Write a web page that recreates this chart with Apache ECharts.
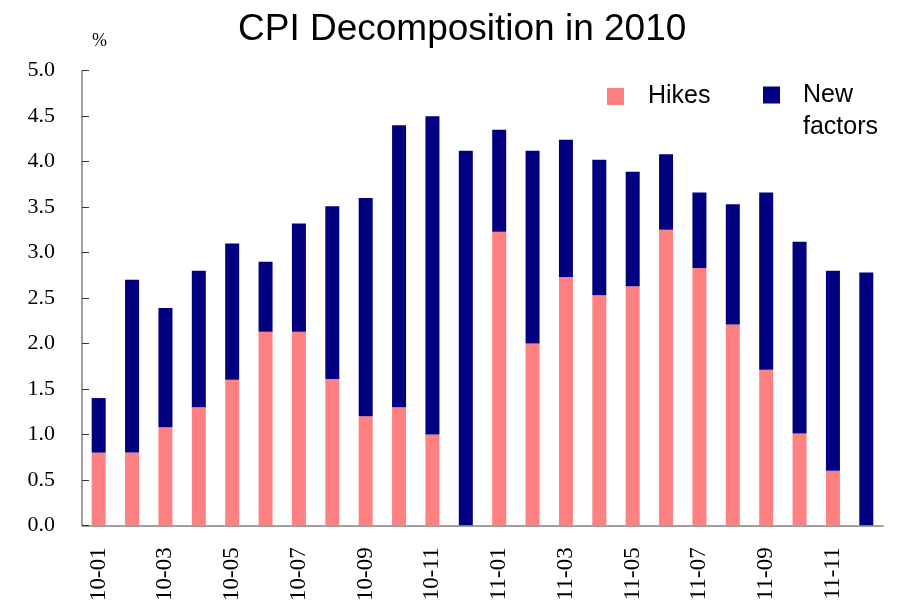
<!DOCTYPE html>
<html>
<head>
<meta charset="utf-8">
<title>CPI Decomposition in 2010</title>
<script src="https://cdn.jsdelivr.net/npm/echarts@6/dist/echarts.min.js"></script>
<style>
  html, body { margin: 0; padding: 0; background: #fff; overflow: hidden; }
  #chart { width: 897px; height: 604px; }
</style>
</head>
<body>
<div id="chart"></div>
<script>
// 月份
const months = [
  '10-01', '10-02', '10-03', '10-04', '10-05', '10-06',
  '10-07', '10-08', '10-09', '10-10', '10-11', '10-12',
  '11-01', '11-02', '11-03', '11-04', '11-05', '11-06',
  '11-07', '11-08', '11-09', '11-10', '11-11', '11-12'
]
// 翘尾因素 (Hikes)
const hikes = [
  0.8, 0.8, 1.08, 1.3, 1.6, 2.13, 2.13, 1.61, 1.2, 1.3, 1.0, 0,
  3.23, 2.0, 2.73, 2.53, 2.63, 3.25, 2.83, 2.21, 1.71, 1.01, 0.6, 0
]
// 新涨价因素 (New factors)
const newFactors = [
  0.6, 1.9, 1.31, 1.5, 1.5, 0.77, 1.19, 1.9, 2.4, 3.1, 3.5, 4.12,
  1.12, 2.12, 1.51, 1.49, 1.26, 0.83, 0.83, 1.32, 1.95, 2.11, 2.2, 2.78
]
// y轴刻度
const yTicks = [0, 0.5, 1, 1.5, 2, 2.5, 3, 3.5, 4, 4.5, 5]

const serif = '"Liberation Serif", "DejaVu Serif", serif'
const sans = '"Liberation Sans", Arial, sans-serif'

const chart = echarts.init(document.getElementById('chart'), null, { renderer: 'canvas' })

const option = {
  animation: false,
  title: {
    text: 'CPI Decomposition in 2010',
    left: 233,
    top: 6,
    textStyle: {
      fontFamily: sans,
      fontSize: 37,
      fontWeight: 'normal',
      color: '#000'
    }
  },
  legend: [
    {
      data: ['Hikes'],
      left: 602,
      top: 79,
      icon: 'rect',
      itemWidth: 17,
      itemHeight: 17,
      textStyle: {
        fontFamily: sans,
        fontSize: 25,
        color: '#000',
        padding: [0, 0, 0, 19]
      }
    },
    {
      // 第一行留空, 让 "New" 与图例方块对齐
      data: ['New factors'],
      left: 758,
      top: 42,
      icon: 'rect',
      itemWidth: 17,
      itemHeight: 17,
      formatter: () => ' \nNew\nfactors',
      textStyle: {
        fontFamily: sans,
        fontSize: 25,
        lineHeight: 32,
        color: '#000',
        padding: [0, 0, 0, 18]
      }
    }
  ],
  grid: {
    left: 82,
    right: 14,
    top: 70.7,
    bottom: 75.7
  },
  xAxis: {
    type: 'category',
    data: months,
    axisLine: { lineStyle: { color: '#808080', width: 1.5 } },
    axisTick: {
      inside: true,
      length: 7,
      interval: 1,
      lineStyle: { color: '#333' }
    },
    axisLabel: {
      interval: 1,
      rotate: 90,
      margin: 22,
      fontFamily: serif,
      fontSize: 23,
      color: '#000'
    }
  },
  yAxis: {
    type: 'value',
    min: yTicks[0],
    max: yTicks[yTicks.length - 1],
    interval: 0.5,
    name: '%',
    nameLocation: 'end',
    nameGap: 20,
    nameTextStyle: {
      fontFamily: serif,
      fontSize: 18,
      color: '#000',
      align: 'left',
      padding: [0, 0, 0, 10]
    },
    splitLine: { show: false },
    axisLine: { show: true, lineStyle: { color: '#808080', width: 1.5 } },
    axisTick: {
      show: true,
      inside: true,
      length: 7,
      lineStyle: { color: '#333' }
    },
    axisLabel: {
      margin: 27,
      fontFamily: serif,
      fontSize: 22,
      color: '#000',
      formatter: (v) => v.toFixed(1)
    }
  },
  series: [
    {
      name: 'Hikes',
      type: 'bar',
      stack: 'cpi',
      barWidth: 14,
      itemStyle: { color: '#FF8080' },
      data: hikes
    },
    {
      name: 'New factors',
      type: 'bar',
      stack: 'cpi',
      barWidth: 14,
      itemStyle: { color: '#000080' },
      data: newFactors
    }
  ]
}

chart.setOption(option)
</script>
</body>
</html>
